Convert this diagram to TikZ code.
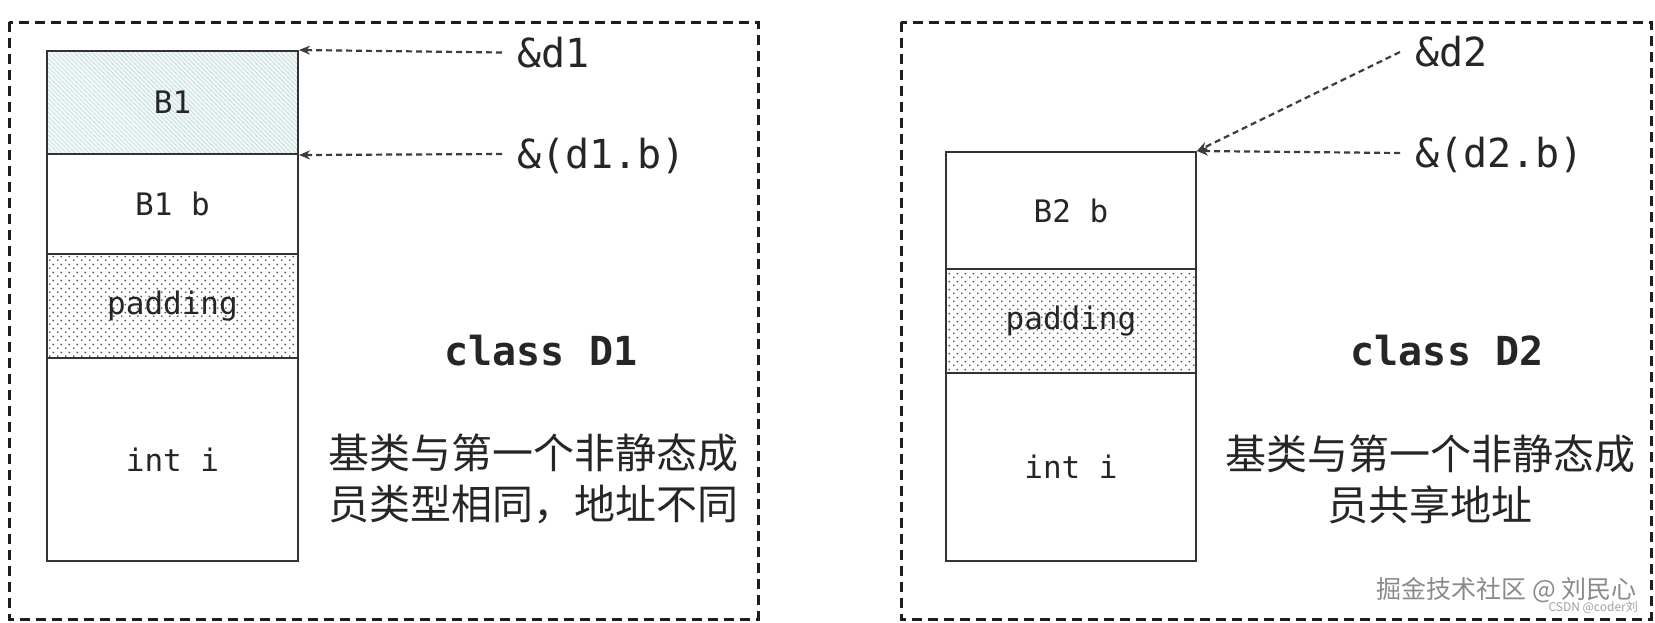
\documentclass[tikz,border=0pt]{standalone}
\usepackage{fontspec}
\setmonofont{DejaVu Sans Mono}
\newfontfamily\cjk{Noto Sans CJK SC}
\usetikzlibrary{arrows.meta,patterns}
\pgfdeclarepatternformonly{stagdots}{\pgfqpoint{0pt}{0pt}}{\pgfqpoint{8pt}{8pt}}{\pgfqpoint{8pt}{8pt}}{%
  \pgfpathcircle{\pgfqpoint{2pt}{2pt}}{1.1pt}%
  \pgfpathcircle{\pgfqpoint{6pt}{6pt}}{1.1pt}%
  \pgfusepath{fill}}
\pgfdeclarepatternformonly{finehatch}{\pgfqpoint{-1pt}{-1pt}}{\pgfqpoint{5pt}{5pt}}{\pgfqpoint{4.5pt}{4.5pt}}{%
  \pgfsetlinewidth{0.7pt}%
  \pgfpathmoveto{\pgfqpoint{-0.5pt}{5pt}}%
  \pgfpathlineto{\pgfqpoint{5pt}{-0.5pt}}%
  \pgfusepath{stroke}}
\definecolor{ink}{HTML}{262626}
\definecolor{boxline}{HTML}{333333}
\definecolor{framec}{HTML}{1E1E1E}
\definecolor{arrowc}{HTML}{3C3C3C}
\definecolor{hatchbg}{HTML}{F3F9F9}
\definecolor{hatchfg}{HTML}{C4DCDC}
\definecolor{dotfg}{HTML}{555555}
\definecolor{wmc}{HTML}{8A8A8A}
\definecolor{wmcb}{HTML}{A0A0A0}
\tikzset{
  membox/.style={draw=boxline, line width=2pt, minimum width=251pt, inner sep=0pt,
    font=\fontsize{31}{31}\selectfont\ttfamily, text=ink},
  hatchbox/.style={membox, preaction={fill=hatchbg},
    pattern=finehatch, pattern color=hatchfg},
  dotbox/.style={membox, pattern=stagdots, pattern color=dotfg},
  frame/.style={draw=framec, line width=3pt, dash pattern=on 10pt off 6pt},
  addr/.style={font=\fontsize{40}{40}\selectfont\ttfamily, text=ink, inner xsep=15pt,
    inner ysep=0pt, text height=29pt, text depth=0pt, anchor=west},
  ptr/.style={draw=arrowc, line width=2.2pt, dash pattern=on 6pt off 4pt,
    -{Stealth[length=11pt,width=9pt]}},
  classlbl/.style={font=\fontsize{40}{40}\selectfont\ttfamily\bfseries, text=ink, anchor=base},
  note/.style={font=\cjk\fontsize{41}{51}\selectfont, align=center, text=ink},
}
\begin{document}
\begin{tikzpicture}[x=1pt,y=-1pt]
\useasboundingbox[fill=white] (0,0) rectangle (1655,622);
% frames
\draw[frame] (9,22) rectangle (758,619);
\draw[frame] (901,22) rectangle (1651,619);
% left stack
\node[hatchbox, minimum height=103pt] (B1) at (172.5,102.5) {B1};
\node[membox, minimum height=100pt] (B1b) at (172.5,204) {B1 b};
\node[dotbox, minimum height=104pt] (pad1) at (172.5,306) {padding};
\node[membox, minimum height=203pt] (int1) at (172.5,459.5) {int i};
% right stack
\node[membox, minimum height=117pt, minimum width=250pt] (B2b) at (1071,210.5) {B2 b};
\node[dotbox, minimum height=104pt, minimum width=250pt] (pad2) at (1071,321) {padding};
\node[membox, minimum height=188pt, minimum width=250pt] (int2) at (1071,467) {int i};
% address labels
\node[addr] (ad1) at (502,52.5) {\&d1};
\node[addr] (ad1b) at (502,154) {\&(d1.b)};
\node[addr] (ad2) at (1400,52) {\&d2};
\node[addr] (ad2b) at (1400,153) {\&(d2.b)};
\draw[ptr] (ad1.west) -- (B1.north east);
\draw[ptr] (ad1b.west) -- (B1.south east);
\draw[ptr] (ad2.west) -- (B2b.north east);
\draw[ptr] (ad2b.west) -- (B2b.north east);
% class labels
\node[classlbl] (c1) at (541,365) {class D1};
\node[classlbl] (c2) at (1447,365) {class D2};
% notes
\node[note] (n1) at (533,479) {基类与第一个非静态成\\员类型相同，地址不同};
\node[note] (n2) at (1430,479) {基类与第一个非静态成\\员共享地址};
% watermark
\node[font=\cjk\fontsize{25}{25}\selectfont, text=wmc, anchor=east, inner sep=0pt] (wm1) at (1637,590) {掘金技术社区 @ 刘民心};
\node[font=\cjk\fontsize{12}{12}\selectfont, text=wmcb, anchor=east, inner sep=0pt] (wm2) at (1638,607) {CSDN @coder刘};
\end{tikzpicture}
\end{document}
